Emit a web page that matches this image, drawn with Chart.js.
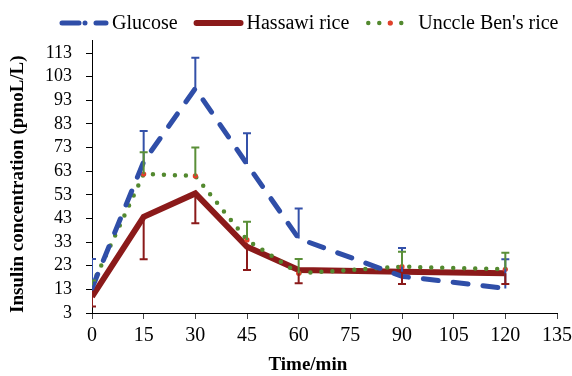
<!DOCTYPE html>
<html>
<head>
<meta charset="utf-8">
<script src="https://cdn.jsdelivr.net/npm/chart.js@4.4.1/dist/chart.umd.min.js"></script>
<style>
    html, body { margin: 0; padding: 0; background: #fff; }
    #wrap { width: 572px; height: 376px; }
</style>
</head>
<body>
<div id="wrap"><canvas id="insulinChart"></canvas></div>
<script>
// Time points (min) and insulin values (pmoL/L)
const times = [0, 15, 30, 45, 60, 90, 120];
const glucose = [13.5, 67, 98, 66, 34.5, 18.5, 13.4];
const glucoseErr = [12.3, 13, 13, 13, 12.7, 12, 12.3];
const hassawi = [9.9, 43.7, 53.6, 31, 21.2, 20.5, 19.8];
const hassawiErr = [4.2, 18, 12.6, 9.8, 5.6, 5.2, 4.5];
const unclebens = [14.7, 61.8, 61, 33.9, 19.8, 22.6, 21.5];
const unclebensErr = [2, 9.2, 12, 7.7, 6, 6.3, 7];

const xTicks = [0, 15, 30, 45, 60, 75, 90, 105, 120, 135];
const yTicks = [3, 13, 23, 33, 43, 53, 63, 73, 83, 93, 103, 113];

const toPoints = (vals) => times.map((t, i) => ({ x: t, y: vals[i] }));

// one-sided error bars + legend row, drawn on top of the chart
const overlayPlugin = {
    id: "overlay",
    afterDatasetsDraw(chart) {
        const { ctx, chartArea, scales } = chart;
        ctx.save();
        ctx.beginPath();
        ctx.rect(chartArea.left, chartArea.top, chartArea.width, chartArea.height);
        ctx.clip();
        chart.data.datasets.forEach((ds) => {
            const eb = ds.errorBars;
            ctx.strokeStyle = eb.color;
            ctx.lineWidth = 2;
            ds.data.forEach((pt, j) => {
                const px = scales.x.getPixelForValue(pt.x);
                const py0 = scales.y.getPixelForValue(pt.y);
                const py1 = scales.y.getPixelForValue(pt.y + eb.dir * eb.values[j]);
                ctx.beginPath();
                ctx.moveTo(px, py0);
                ctx.lineTo(px, py1);
                ctx.moveTo(px - 4, py1);
                ctx.lineTo(px + 4, py1);
                ctx.stroke();
            });
        });
        ctx.restore();
    },
    afterDraw(chart) {
        const ctx = chart.ctx;
        const cy = 23;
        let x = 60;
        ctx.save();
        ctx.font = "20px 'Liberation Serif'";
        ctx.textBaseline = "alphabetic";
        ctx.fillStyle = "#000";
        chart.data.datasets.forEach((ds) => {
            const sw = ds.legendSwatch;
            ctx.strokeStyle = ds.borderColor;
            ctx.lineWidth = ds.borderWidth;
            ctx.lineCap = sw.cap;
            ctx.setLineDash(sw.dash);
            ctx.beginPath();
            ctx.moveTo(x + sw.inset, cy);
            ctx.lineTo(x + 48 - sw.inset, cy);
            ctx.stroke();
            ctx.setLineDash([]);
            if (sw.centerDot) {
                ctx.fillStyle = sw.centerDot;
                ctx.beginPath();
                ctx.arc(x + 24, cy, 2.6, 0, Math.PI * 2);
                ctx.fill();
                ctx.fillStyle = "#000";
            }
            ctx.fillText(ds.label, x + 52, cy + 6);
            x += 52 + ctx.measureText(ds.label).width + 17;
        });
        ctx.restore();
    },
};

document.addEventListener("DOMContentLoaded", function () {
    const ctx = document.getElementById("insulinChart").getContext("2d");
    new Chart(ctx, {
        type: "line",
        data: {
            datasets: [
                {
                    label: "Glucose",
                    data: toPoints(glucose),
                    borderColor: "#2f4ea8",
                    backgroundColor: "#2f4ea8",
                    borderWidth: 5,
                    borderDash: [15, 15],
                    borderCapStyle: "round",
                    pointRadius: 0,
                    order: 0,
                    errorBars: { values: glucoseErr, dir: 1, color: "#3451a9" },
                    legendSwatch: { dash: [17, 6, 0, 11, 17], cap: "round", inset: 2 },
                },
                {
                    label: "Hassawi rice",
                    data: toPoints(hassawi),
                    borderColor: "#8b1a1a",
                    backgroundColor: "#8b1a1a",
                    borderWidth: 6,
                    borderJoinStyle: "miter",
                    pointRadius: 0,
                    order: 2,
                    errorBars: { values: hassawiErr, dir: -1, color: "#8b1a1a" },
                    legendSwatch: { dash: [], cap: "round", inset: 2 },
                },
                {
                    label: "Unccle Ben's rice",
                    data: toPoints(unclebens),
                    borderColor: "#53892f",
                    backgroundColor: "#53892f",
                    borderWidth: 4.5,
                    borderDash: [0, 11],
                    borderCapStyle: "round",
                    pointRadius: 2.6,
                    pointBorderWidth: 0,
                    pointBackgroundColor: "#e2402b",
                    order: 1,
                    errorBars: { values: unclebensErr, dir: 1, color: "#5a8f38" },
                    legendSwatch: { dash: [0, 11], cap: "round", inset: 2, centerDot: "#e2402b" },
                },
            ],
        },
        options: {
            responsive: true,
            maintainAspectRatio: false,
            animation: false,
            layout: { padding: { left: 0, right: 15, top: 40, bottom: 0 } },
            plugins: {
                tooltip: { enabled: false },
                legend: { display: false },
            },
            scales: {
                x: {
                    type: "linear",
                    min: 0,
                    max: 135,
                    afterBuildTicks: (scale) => {
                        scale.ticks = xTicks.map((v) => ({ value: v }));
                    },
                    afterFit: (scale) => {
                        scale.height = 63;
                        scale.paddingLeft = 0;
                        scale.paddingRight = 0;
                    },
                    grid: { drawOnChartArea: false, tickLength: 6, color: "#444" },
                    border: { color: "#000", width: 1 },
                    ticks: {
                        color: "#000",
                        padding: 5,
                        maxRotation: 0,
                        font: { family: "Liberation Serif", size: 20 },
                    },
                    title: {
                        display: true,
                        text: "Time/min" + "\u00a0".repeat(7),
                        color: "#000",
                        padding: { top: 0, bottom: 0 },
                        font: { family: "Liberation Serif", size: 19, weight: "bold" },
                    },
                },
                y: {
                    min: 3,
                    max: 118.5,
                    afterBuildTicks: (scale) => {
                        scale.ticks = yTicks.map((v) => ({ value: v }));
                    },
                    afterFit: (scale) => {
                        scale.width = 92;
                    },
                    grid: { drawOnChartArea: false, tickLength: 6, color: "#000" },
                    border: { color: "#000", width: 1 },
                    ticks: {
                        color: "#000",
                        padding: 14,
                        font: { family: "Liberation Serif", size: 18 },
                    },
                    title: {
                        display: true,
                        text: "Insulin concentration (pmoL/L)",
                        align: "start",
                        color: "#000",
                        padding: { top: 7, bottom: 0 },
                        font: { family: "Liberation Serif", size: 19, weight: "bold" },
                    },
                },
            },
        },
        plugins: [overlayPlugin],
    });
});
</script>
</body>
</html>
